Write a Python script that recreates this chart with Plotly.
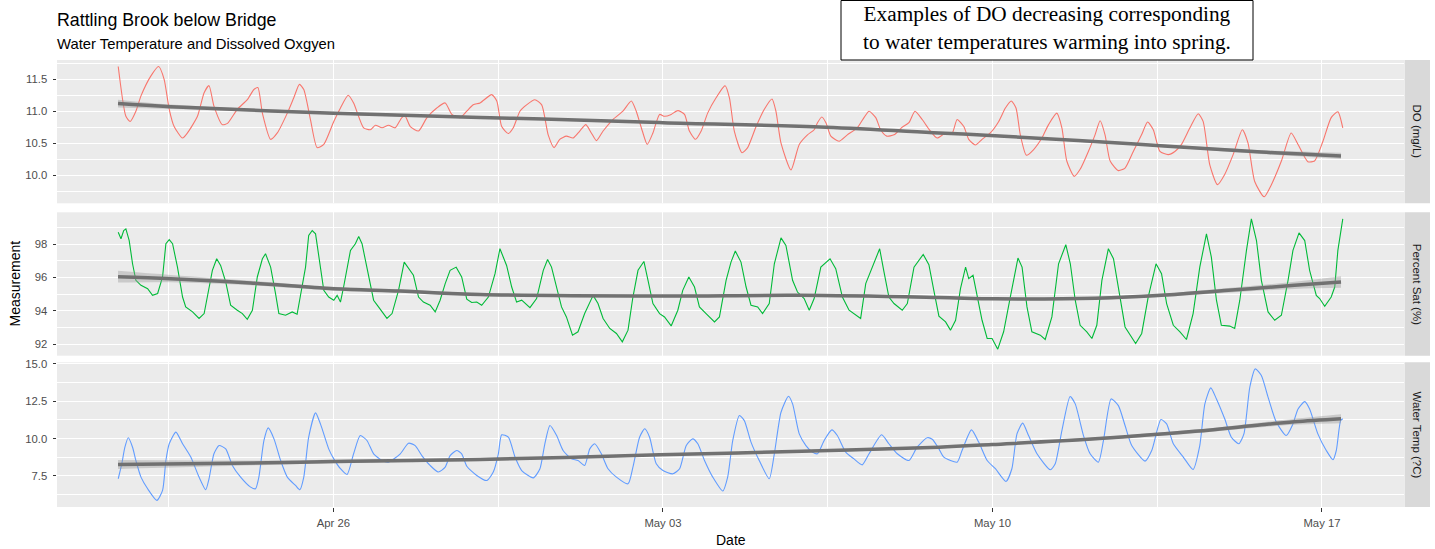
import pandas as pd
import plotly.graph_objects as go

BASE = pd.Timestamp("2021-04-21 00:00")

# ---------------- data (hours since BASE) ----------------
do_hours = [10.3,14.2,16.4,19.3,21.9,26.9,30.9,33.7,36.3,38.8,
            43.1,45.6,50.7,54.1,56.6,59.1,63.4,66.0,71.0,76.1,
            79.5,81.5,83.8,88.0,91.4,96.5,99.8,102.7,104.9,108.3,
            111.7,115.1,120.2,123.6,127.5,130.3,135.4,138.8,141.4,144.8,
            148.1,151.5,154.9,156.6,159.2,163.4,167.7,172.7,177.0,180.4,
            184.6,188.0,191.3,194.8,200.7,203.3,205.8,209.2,211.7,215.1,
            218.5,222.7,226.2,229.5,232.5,235.4,238.8,242.2,245.6,248.7,
            251.5,254.1,257.5,262.5,267.6,271.9,274.4,277.5,280.0,282.9,
            286.3,288.8,292.2,295.6,299.0,301.5,304.6,307.5,310.8,315.1,
            319.7,321.9,324.4,328.3,331.2,335.5,339.7,343.6,345.6,348.2,
            353.3,357.5,361.7,365.1,366.8,369.0,371.1,373.6,377.8,382.0,
            387.1,390.5,393.1,396.5,399.0,402.1,405.8,410.0,413.4,416.5,
            420.2,423.6,427.8,432.1,435.4,438.0,441.4,443.9,447.3,450.7,
            454.9,459.2,462.6,465.6,468.0,470.2,473.3,477.0,481.2,484.6,
            488.8,491.4,493.9,497.7,500.7,504.9,508.3,510.9,513.4,516.0,
            520.2,523.6,527.8,532.0,535.1,538.0,541.4,545.6,549.0,552.4,
            556.7,560.9,563.4,566.8,570.7,574.4,578.7,583.4,586.3,589.7,
            594.5,598.2,603.3,608.3,611.8,616.8,620.2,624.5,628.7,632.1,
            634.6]
do_vals = [11.70,10.92,10.84,11.00,11.24,11.55,11.70,11.50,11.03,10.76,
           10.58,10.66,10.92,11.29,11.40,11.08,10.79,10.81,11.03,11.18,
           11.34,11.37,10.97,10.56,10.66,10.97,11.21,11.42,11.34,10.87,
           10.43,10.48,10.84,11.05,11.25,11.13,10.74,10.71,10.78,10.74,
           10.78,10.74,10.90,10.92,10.76,10.69,10.90,11.05,11.13,10.95,
           10.90,11.00,11.10,11.13,11.26,11.16,10.76,10.65,10.74,11.00,
           11.10,11.18,11.10,10.63,10.43,10.56,10.61,10.58,10.69,10.79,
           10.66,10.54,10.69,10.87,11.00,11.16,11.00,10.69,10.48,10.66,
           10.95,10.92,10.95,11.01,10.95,10.69,10.56,10.69,10.97,11.21,
           11.40,11.21,10.69,10.35,10.43,10.76,11.03,11.19,11.00,10.50,
           10.08,10.48,10.63,10.71,10.82,10.91,10.82,10.61,10.53,10.63,
           10.74,10.90,11.00,10.90,10.71,10.61,10.63,10.75,10.82,11.00,
           10.87,10.72,10.58,10.66,10.65,10.87,10.76,10.56,10.47,10.56,
           10.66,10.84,11.05,11.16,11.05,10.63,10.31,10.40,10.58,10.79,
           10.97,10.74,10.22,9.98,10.09,10.37,10.63,10.85,10.63,10.22,
           10.07,10.11,10.37,10.63,10.83,10.71,10.37,10.32,10.37,10.48,
           10.74,10.96,10.84,10.16,9.85,10.01,10.32,10.71,10.50,9.90,
           9.66,9.85,10.22,10.66,10.48,10.21,10.22,10.53,10.90,10.99,
           10.74]

sat_hours = [10.3,11.7,13.1,14.2,15.9,17.6,19.3,21.9,25.3,27.8,
             30.4,32.9,34.6,36.3,38.0,40.5,43.1,44.7,48.2,51.5,
             54.1,56.6,58.3,60.5,62.5,65.1,67.6,71.0,73.6,76.1,
             78.7,81.2,83.8,85.4,88.0,90.5,92.2,95.6,99.0,101.5,
             103.2,105.8,107.4,109.2,110.9,112.5,115.1,117.6,120.2,121.9,
             123.6,125.2,128.7,131.2,132.9,134.6,137.1,140.5,143.0,147.3,
             149.9,153.2,156.1,158.3,160.8,163.4,165.9,169.3,171.9,174.4,
             177.0,179.5,182.6,185.4,188.0,190.5,193.1,195.6,199.0,202.4,
             204.9,208.3,210.9,213.4,216.0,220.2,223.6,227.0,229.2,231.2,
             233.8,236.3,238.8,241.9,244.7,248.1,252.4,254.9,257.5,260.9,
             264.3,267.3,270.2,272.7,275.3,278.3,280.4,282.9,286.3,288.8,
             292.2,295.6,298.1,301.2,304.1,306.6,310.0,314.3,316.8,320.2,
             322.7,324.9,327.8,330.4,332.9,336.3,338.8,342.2,344.8,348.2,
             350.7,354.1,356.6,360.0,362.6,365.1,368.5,373.2,376.1,379.5,
             382.9,386.3,388.8,391.4,394.7,398.5,400.7,403.2,405.8,410.0,
             412.6,416.0,420.7,423.6,426.1,428.7,432.1,434.6,437.2,439.7,
             442.3,443.9,446.1,448.2,450.7,453.3,455.8,458.7,461.7,465.1,
             469.0,471.1,473.6,476.1,480.4,482.9,486.3,489.7,493.4,495.7,
             498.2,500.7,504.1,506.7,509.2,511.8,515.1,517.7,520.2,523.6,
             529.0,532.1,535.4,539.4,542.2,544.8,548.2,551.6,554.9,558.3,
             561.7,565.1,567.6,570.2,572.7,577.0,579.5,582.1,585.5,588.0,
             590.6,593.1,596.5,599.9,603.3,606.7,609.2,612.3,615.2,617.7,
             621.1,622.8,625.4,628.7,630.5,632.1,634.6]
sat_vals = [98.71,98.32,98.81,98.91,98.21,96.82,95.83,95.53,95.33,94.93,
            95.04,96.03,98.02,98.26,98.02,96.62,94.83,94.24,93.94,93.55,
            93.84,95.43,96.43,97.12,96.72,95.73,94.34,94.04,93.84,93.50,
            94.04,96.03,97.12,97.42,96.62,95.04,93.84,93.74,93.94,93.80,
            94.83,96.62,98.51,98.81,98.61,97.22,95.23,94.83,94.64,94.93,
            94.53,95.43,97.62,98.02,98.45,98.02,96.62,94.64,94.24,93.55,
            93.84,95.23,96.92,96.53,96.13,94.83,94.53,94.34,93.94,94.64,
            95.63,96.43,96.62,96.03,94.70,94.50,94.53,94.34,94.83,96.23,
            97.72,96.72,95.43,94.53,94.64,94.20,94.74,96.43,97.08,96.62,
            95.43,94.24,93.64,92.55,92.75,93.84,94.93,94.44,93.55,92.95,
            92.65,92.15,92.85,94.83,96.43,96.96,95.83,94.44,93.84,93.64,
            93.10,94.04,95.23,96.03,95.43,94.24,93.84,93.34,93.64,95.83,
            96.92,97.58,96.92,95.43,94.34,94.24,93.84,94.44,96.82,98.37,
            97.92,95.83,95.13,94.74,94.04,94.74,96.62,97.12,96.53,94.83,
            94.04,93.74,93.55,95.63,96.62,97.72,96.33,94.83,94.44,94.04,
            94.44,96.62,97.38,96.77,95.23,93.69,93.34,92.85,93.44,95.33,
            96.62,95.93,96.13,94.83,93.44,92.35,92.35,91.71,92.75,94.83,
            97.16,96.62,94.24,92.75,92.55,92.29,93.64,96.82,97.96,96.82,
            94.64,93.14,92.75,92.35,93.14,95.83,97.72,97.12,95.43,93.04,
            92.05,92.65,94.83,96.82,96.23,94.44,93.14,92.75,92.29,93.84,
            96.62,98.61,97.22,94.64,93.14,93.09,92.95,94.64,97.62,99.51,
            98.21,95.83,93.94,93.44,93.74,95.83,97.62,98.67,98.21,96.43,
            94.93,94.74,94.28,94.83,95.43,97.62,99.51]

temp_hours = [10.3,12.1,13.7,15.4,17.6,19.3,21.9,25.3,30.0,32.9,
              34.6,36.3,39.7,43.1,47.3,51.5,54.9,56.6,59.1,61.7,
              65.1,68.5,72.7,77.8,80.3,82.0,84.6,86.8,89.7,93.1,
              96.5,100.7,102.9,104.9,107.4,110.9,113.4,117.6,120.2,123.6,
              127.0,130.3,133.7,137.1,140.5,144.8,148.1,154.1,158.3,161.7,
              165.1,169.3,173.5,177.0,179.5,182.9,185.4,188.0,193.1,198.2,
              201.5,204.1,205.8,209.2,212.6,216.0,221.9,225.3,227.8,230.4,
              233.8,237.1,241.4,244.7,248.1,250.7,253.2,256.6,260.0,264.3,
              270.2,272.7,276.1,278.7,281.2,284.6,288.0,293.1,296.5,299.9,
              303.2,305.8,309.2,313.4,318.5,321.0,323.6,327.0,329.5,332.9,
              337.1,342.2,344.8,348.2,352.0,354.1,357.5,360.9,364.2,366.8,
              370.2,374.1,376.9,381.2,385.4,389.6,393.1,399.5,403.2,407.5,
              413.4,417.6,422.7,425.3,428.7,431.2,438.0,440.5,445.3,449.0,
              453.3,457.5,462.9,465.9,468.5,471.4,474.4,478.7,485.5,488.0,
              491.4,495.6,498.2,502.4,505.8,510.0,512.6,516.5,520.2,523.6,
              527.0,533.8,537.2,541.9,544.8,548.2,553.3,558.3,561.7,564.3,
              567.3,570.2,574.4,577.8,581.6,584.2,587.2,590.0,593.1,596.5,
              600.7,605.8,609.2,611.8,615.2,617.7,621.9,626.2,629.6,631.3,
              633.5,634.6]
temp_vals = [7.31,8.31,9.42,10.05,9.42,8.53,7.42,6.64,5.86,6.53,
             8.53,9.65,10.43,9.65,8.76,7.42,6.57,7.31,8.98,9.53,
             9.31,8.20,7.42,6.75,6.64,7.42,9.87,10.71,9.98,8.53,
             7.42,6.86,6.57,7.42,10.09,11.72,10.98,9.31,8.64,7.98,
             7.60,8.98,10.20,9.87,8.98,8.53,8.42,8.98,9.69,9.53,
             8.86,8.20,7.76,8.09,8.86,9.20,8.98,8.15,7.53,7.19,
             7.76,8.98,10.25,10.09,8.76,7.86,7.37,7.98,9.65,10.87,
             10.20,9.20,8.64,8.53,8.20,9.31,9.65,8.98,7.98,7.42,
             6.97,8.09,10.09,10.65,10.09,8.31,7.86,7.64,7.98,9.53,
             9.98,9.65,8.53,7.42,6.49,7.42,9.87,11.54,11.20,9.76,
             8.53,7.31,8.98,11.76,12.83,12.32,10.31,9.53,9.09,8.98,
             9.87,10.58,10.20,9.09,8.64,8.24,8.98,10.25,9.65,8.98,
             8.53,9.42,10.05,9.95,9.31,8.76,8.42,9.20,10.58,9.76,
             8.53,7.98,7.13,7.98,10.31,11.03,10.20,8.98,7.91,8.31,
             10.53,12.81,12.32,10.20,8.98,8.42,9.87,12.65,12.20,10.87,
             9.53,8.49,9.20,11.27,10.98,9.65,8.76,7.93,9.53,12.32,
             13.39,12.65,11.32,10.09,9.65,10.31,13.43,14.66,14.21,12.77,
             11.10,10.20,10.98,11.98,12.47,11.98,10.31,9.20,8.58,9.20,
             11.20,11.32]

# smoothed trend (loess) with confidence half-width
do_trend_hours = [10.2,37.1,120.0,194.8,226.9,288.0,371.0,428.7,454.9,526.6,593.1,633.7]
do_trend = [11.12,11.07,10.97,10.90,10.88,10.82,10.75,10.66,10.62,10.49,10.36,10.30]
do_ci = [0.06,0.035,0.02,0.015,0.015,0.015,0.015,0.015,0.015,0.02,0.03,0.05]

sat_trend_hours = [10.2,37.1,77.8,120.0,154.1,194.8,286.3,357.5,428.7,457.7,508.5,542.1,576.2,610.0,633.7]
sat_trend = [96.05,95.93,95.67,95.33,95.19,94.98,94.89,94.93,94.80,94.72,94.76,94.93,95.23,95.53,95.73]
sat_ci = [0.35,0.22,0.14,0.11,0.1,0.09,0.08,0.08,0.08,0.08,0.09,0.1,0.14,0.22,0.35]

temp_trend_hours = [10.2,86.3,120.0,194.8,286.3,354.1,428.7,455.8,508.4,559.2,593.1,610.0,633.7]
temp_trend = [8.26,8.38,8.46,8.60,8.91,9.13,9.42,9.60,9.98,10.48,10.92,11.12,11.32]
temp_ci = [0.3,0.15,0.12,0.1,0.08,0.08,0.08,0.08,0.1,0.12,0.16,0.2,0.3]

strip_labels = ["DO (mg/L)", "Percent Sat (%)", "Water Temp (?C)"]
series_colors = ["#F8766D", "#00BA38", "#619CFF"]

do_ticks = [10.0, 10.5, 11.0, 11.5]
do_minor = [9.75, 10.25, 10.75, 11.25, 11.75]
sat_ticks = [92, 94, 96, 98]
sat_minor = [93, 95, 97, 99]
temp_ticks = [7.5, 10.0, 12.5, 15.0]
temp_minor = [6.25, 8.75, 11.25, 13.75]

x_tick_dates = ["2021-04-26", "2021-05-03", "2021-05-10", "2021-05-17"]
x_tick_labels = ["Apr 26", "May 03", "May 10", "May 17"]
x_minor_dates = ["2021-04-22 12:00", "2021-04-29 12:00", "2021-05-06 12:00", "2021-05-13 12:00"]


def to_time(hours):
    return BASE + pd.to_timedelta(hours, unit="h")


SANS = "Liberation Sans, Arial, sans-serif"
W, H = 1435, 549
ML, MR, MT, MB = 57, 31, 60, 42
PH = H - MT - MB  # plot height in px
PW = W - ML - MR


def py(px):  # pixel y -> paper y
    return (H - MB - px) / PH


def pxx(px):  # pixel x -> paper x
    return (px - ML) / PW


domains = [[py(203.3), 1.0], [py(355.7), py(212.3)], [0.0, py(362.3)]]

panels = [
    (do_hours, do_vals, do_trend_hours, do_trend, do_ci, do_ticks, do_minor, ".1f"),
    (sat_hours, sat_vals, sat_trend_hours, sat_trend, sat_ci, sat_ticks, sat_minor, "d"),
    (temp_hours, temp_vals, temp_trend_hours, temp_trend, temp_ci, temp_ticks, temp_minor, ".1f"),
]

TICKFONT = dict(family=SANS, size=11.3, color="#4D4D4D")

fig = go.Figure()

all_h = do_hours + sat_hours + temp_hours
hmin, hmax = min(all_h), max(all_h)
hpad = 0.05 * (hmax - hmin)
x_range = [to_time(hmin - hpad), to_time(hmax + hpad)]

layout = dict()
for i, (hrs, vals, th, tv, ci, ticks, minor, fmt) in enumerate(panels):
    n = i + 1
    xa = "x" if n == 1 else f"x{n}"
    ya = "y" if n == 1 else f"y{n}"
    t = to_time(hrs)
    tt = to_time(th)
    lower = [a - b for a, b in zip(tv, ci)]
    upper = [a + b for a, b in zip(tv, ci)]

    fig.add_trace(go.Scatter(x=t, y=vals, mode="lines", xaxis=xa, yaxis=ya,
                             line=dict(color=series_colors[i], width=1.1,
                                       shape="spline" if i != 1 else "linear", smoothing=0.6),
                             showlegend=False, hoverinfo="skip"))
    fig.add_trace(go.Scatter(x=tt, y=lower, mode="lines", xaxis=xa, yaxis=ya,
                             line=dict(width=0, shape="spline"), showlegend=False, hoverinfo="skip"))
    fig.add_trace(go.Scatter(x=tt, y=upper, mode="lines", xaxis=xa, yaxis=ya,
                             line=dict(width=0, shape="spline"), fill="tonexty",
                             fillcolor="rgba(153,153,153,0.4)", showlegend=False, hoverinfo="skip"))
    fig.add_trace(go.Scatter(x=tt, y=tv, mode="lines", xaxis=xa, yaxis=ya,
                             line=dict(color="#717171", width=3.5, shape="spline"),
                             showlegend=False, hoverinfo="skip"))

    lo = min(min(vals), min(lower))
    hi = max(max(vals), max(upper))
    pad = 0.05 * (hi - lo)

    xkey = "xaxis" if n == 1 else f"xaxis{n}"
    ykey = "yaxis" if n == 1 else f"yaxis{n}"
    last = (n == 3)
    layout[xkey] = dict(
        domain=[0, 1], anchor=ya, range=x_range, type="date",
        tickmode="array", tickvals=x_tick_dates, ticktext=x_tick_labels,
        showticklabels=last, ticks="outside" if last else "", ticklen=3.5,
        tickwidth=1.1, tickcolor="#333333", ticklabelstandoff=2,
        tickfont=TICKFONT,
        showgrid=True, gridcolor="white", gridwidth=1.3,
        minor=dict(tickmode="array", tickvals=x_minor_dates, showgrid=True,
                   gridcolor="white", gridwidth=0.6, ticks=""),
        zeroline=False, showline=False,
        matches=None if n == 1 else "x",
    )
    layout[ykey] = dict(
        domain=domains[i], anchor=xa, range=[lo - pad, hi + pad],
        tickmode="array", tickvals=ticks, tickformat=fmt,
        ticks="outside", ticklen=3.5, tickwidth=1.1, tickcolor="#333333",
        ticklabelstandoff=3,
        tickfont=TICKFONT,
        showgrid=True, gridcolor="white", gridwidth=1.3,
        minor=dict(tickmode="array", tickvals=minor, showgrid=True,
                   gridcolor="white", gridwidth=0.6, ticks=""),
        zeroline=False, showline=False,
    )

shapes = []
annotations = []
for i, lab in enumerate(strip_labels):
    d0, d1 = domains[i]
    shapes.append(dict(type="rect", xref="paper", yref="paper",
                       x0=pxx(1404.5), x1=pxx(1430), y0=d0, y1=d1,
                       fillcolor="#D9D9D9", line=dict(width=0), layer="above"))
    annotations.append(dict(text=lab, xref="paper", yref="paper",
                            x=pxx(1417.2), y=(d0 + d1) / 2, showarrow=False,
                            textangle=90, xanchor="center", yanchor="middle",
                            font=dict(family=SANS, size=11.5, color="#1A1A1A")))

# note box
shapes.append(dict(type="rect", xref="paper", yref="paper",
                   x0=pxx(841), x1=pxx(1253), y0=py(60), y1=py(0.5),
                   fillcolor="white", line=dict(color="black", width=1), layer="above"))
annotations.append(dict(text="Examples of DO decreasing corresponding<br>to water temperatures warming into spring.",
                        xref="paper", yref="paper", x=pxx(1047), y=py(28),
                        xanchor="center", yanchor="middle", showarrow=False, align="center",
                        font=dict(family="Liberation Serif, Times New Roman, serif", size=21.3, color="black")))

# titles
annotations.append(dict(text="Rattling Brook below Bridge", xref="paper", yref="paper",
                        x=pxx(55), y=py(20), xanchor="left", yanchor="middle", showarrow=False,
                        font=dict(family=SANS, size=17.8, color="black")))
annotations.append(dict(text="Water Temperature and Dissolved Oxgyen", xref="paper", yref="paper",
                        x=pxx(55), y=py(44.5), xanchor="left", yanchor="middle", showarrow=False,
                        font=dict(family=SANS, size=14.8, color="black")))
annotations.append(dict(text="Measurement", xref="paper", yref="paper",
                        x=pxx(14), y=0.5, xanchor="center", yanchor="middle", showarrow=False,
                        textangle=-90, font=dict(family=SANS, size=14, color="black")))
annotations.append(dict(text="Date", xref="paper", yref="paper",
                        x=0.5, y=py(540), xanchor="center", yanchor="middle", showarrow=False,
                        font=dict(family=SANS, size=14, color="black")))

fig.update_layout(
    width=W, height=H, autosize=False,
    margin=dict(l=ML, r=MR, t=MT, b=MB, pad=0),
    paper_bgcolor="white", plot_bgcolor="#EBEBEB",
    shapes=shapes, annotations=annotations, showlegend=False,
    **layout,
)

fig.write_html("out.html")
